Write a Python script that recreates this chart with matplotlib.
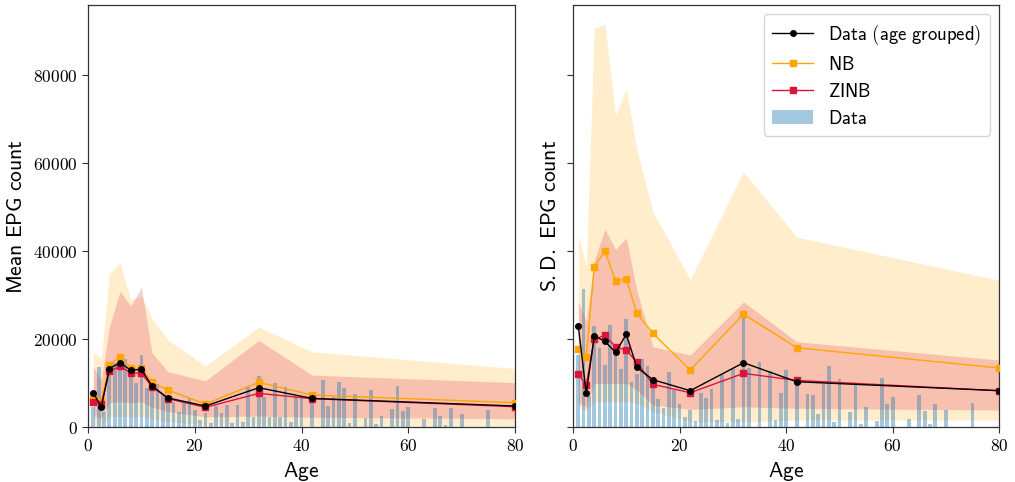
import matplotlib
matplotlib.use("Agg")
import matplotlib.pyplot as plt
from matplotlib.ticker import FuncFormatter, MultipleLocator
from matplotlib.patches import Patch
from matplotlib.lines import Line2D

plt.rcParams["mathtext.fontset"] = "cm"

# Age groups used for the grouped data and the model summaries
group_age = [1, 2.5, 4, 6, 8, 10, 12, 15, 22, 32, 42, 80]

# Mean EPG count per age group
mean_data = [7800, 4480, 13300, 14600, 12950, 13100, 9300, 6600, 4770, 8940, 6500, 4770]
mean_nb = [6900, 5980, 14160, 15900, 13500, 13330, 10160, 8400, 5230, 10160, 7270, 5530]
mean_zinb = [5680, 5300, 12650, 13800, 12350, 12200, 9170, 6440, 4470, 7650, 6440, 4620]
mean_nb_lo = [500, 400, 2300, 2400, 2300, 2400, 1800, 1200, 500, 500, 200, 200]
mean_nb_hi = [17000, 15600, 34900, 37350, 28870, 29800, 24700, 19800, 13870, 22700, 17100, 13330]
mean_zinb_lo = [2500, 2000, 5500, 5800, 5500, 5800, 4500, 3500, 2300, 2500, 2200, 1900]
mean_zinb_hi = [13700, 10700, 22800, 30900, 27500, 31750, 16900, 12570, 10500, 19700, 11800, 10080]

# Standard deviation of EPG count per age group
sd_data = [22960, 7650, 20750, 19470, 16970, 21070, 13570, 10760, 8260, 14620, 10300, 8260]
sd_nb = [17730, 15900, 36500, 40000, 33260, 33640, 25840, 21300, 12950, 25680, 18030, 13410]
sd_zinb = [11970, 9620, 20000, 20840, 18250, 17500, 14700, 9700, 7800, 12200, 10600, 8260]
sd_nb_lo = [4600, 3500, 5750, 5750, 5750, 5750, 5450, 3480, 1200, 1200, 1600, 1600]
sd_nb_hi = [43640, 36440, 90700, 91600, 70900, 77000, 62960, 48940, 33570, 58030, 43200, 33400]
sd_zinb_lo = [5450, 4500, 9900, 9900, 9900, 9900, 8400, 5000, 4000, 4600, 4240, 3860]
sd_zinb_hi = [28490, 24000, 37960, 45000, 40380, 43030, 31000, 18260, 16370, 28490, 19400, 15230]

# Per-age raw data (ages with observations)
bar_age_mean = [1, 2, 3, 4, 5, 6, 7, 8, 9, 10, 11, 12, 13, 14, 15, 16, 17, 18, 19, 20,
                21, 22, 23, 24, 25, 26, 27, 28, 29, 30, 31, 32, 33, 34, 35, 36, 37, 38, 39, 40,
                42, 44, 45, 46, 47, 48, 49, 50, 52, 53, 54, 55, 57, 58, 59, 60,
                63, 65, 66, 67, 68, 70, 75]
bar_mean = [4600, 13600, 3500, 12950, 14470, 14850, 15380, 14100, 9930, 16300, 8790, 9550,
            9770, 7270, 6890, 5750, 3480, 5750, 6520, 3860,
            1590, 3110, 980, 4770, 3110, 5000, 840, 4930, 1200, 9320, 2350, 11670, 6740, 2350,
            10080, 2350, 9170, 1200, 7000, 6520,
            6600, 10680, 4770, 6900, 10300, 8790, 830, 7500, 2120, 8410, 680, 2500, 4010, 9320,
            3710, 4620,
            1740, 4320, 2500, 450, 4320, 2950, 3860]

bar_age_sd = [1, 2, 3, 4, 5, 6, 7, 8, 9, 10, 11, 12, 13, 14, 15, 16, 17, 18, 19, 20,
              21, 22, 23, 24, 25, 26, 27, 28, 29, 30, 31, 32, 33, 35, 37, 38, 39, 40,
              42, 44, 45, 46, 47, 48, 49, 50, 52, 53, 54, 55, 57, 58, 59, 60,
              63, 65, 66, 67, 68, 70, 75]
bar_sd = [16370, 31300, 7000, 23000, 18000, 14090, 23180, 17120, 13300, 24500, 10300, 12050,
          15500, 13870, 10300, 6480, 4240, 12580, 8410, 5200,
          2350, 3860, 1440, 7800, 6700, 8750, 1600, 11900, 1000, 13200, 1800, 25300, 13400,
          14850, 12700, 1590, 7650, 12950,
          10300, 7500, 7270, 2950, 9770, 13870, 1210, 10830, 3480, 9550, 680, 4470, 1440,
          11210, 5230, 6900,
          1900, 7270, 3710, 680, 5150, 3860, 5530]

x_ticks = [0, 20, 40, 60, 80]


def sf(s):
    return r"$\mathsf{" + s.replace(" ", r"\ ") + "}$"


fig = plt.figure(figsize=(10.15, 4.82), dpi=100)
ax1 = fig.add_axes([0.0867, 0.1141, 0.4207, 0.8755])
ax2 = fig.add_axes([0.5645, 0.1141, 0.4200, 0.8755], sharey=ax1)

panels = [
    (ax1, mean_data, mean_nb, mean_zinb, mean_nb_lo, mean_nb_hi, mean_zinb_lo, mean_zinb_hi,
     bar_age_mean, bar_mean, "Mean EPG count"),
    (ax2, sd_data, sd_nb, sd_zinb, sd_nb_lo, sd_nb_hi, sd_zinb_lo, sd_zinb_hi,
     bar_age_sd, bar_sd, "S.D. EPG count"),
]

tick_fmt = FuncFormatter(lambda v, p: r"$%d$" % int(round(v)))

for ax, d, nb, zi, nlo, nhi, zlo, zhi, bx, by, ylab in panels:
    ax.fill_between(group_age, nlo, nhi, color="orange", alpha=0.2, lw=0, zorder=1)
    ax.fill_between(group_age, zlo, zhi, color="crimson", alpha=0.2, lw=0, zorder=1.1)
    ax.bar(bx, by, width=0.7, color="tab:blue", alpha=0.4, lw=0, zorder=2)
    ax.plot(group_age, d, color="black", marker="o", ms=4, lw=1.0, zorder=5)
    ax.plot(group_age, nb, color="orange", marker="s", ms=4.5, lw=1.0, zorder=4)
    ax.plot(group_age, zi, color="crimson", marker="s", ms=4.5, lw=1.0, zorder=4.5)
    ax.set_xlim(0, 80)
    ax.set_xticks(x_ticks)
    ax.xaxis.set_major_formatter(tick_fmt)
    ax.yaxis.set_major_locator(MultipleLocator(20000))
    ax.yaxis.set_major_formatter(tick_fmt)
    ax.tick_params(labelsize=12.5, length=4, width=0.8, color="#333333")
    for s in ax.spines.values():
        s.set_color("#333333")
        s.set_linewidth(0.9)
    ax.set_xlabel(sf("Age"), fontsize=15.5, labelpad=3)
    ax.set_ylabel(sf(ylab), fontsize=15.5, labelpad=5)

ax1.set_ylim(0, 96000)
ax2.tick_params(labelleft=False)

handles = [
    Line2D([], [], color="black", marker="o", ms=4, lw=1.0),
    Line2D([], [], color="orange", marker="s", ms=4.5, lw=1.0),
    Line2D([], [], color="crimson", marker="s", ms=4.5, lw=1.0),
    Patch(facecolor="tab:blue", alpha=0.4, lw=0),
]
labels = [sf("Data (age grouped)"), sf("NB"), sf("ZINB"), sf("Data")]
ax2.legend(handles, labels, loc="upper right", fontsize=13.5, fancybox=True,
           framealpha=0.8, edgecolor="#cccccc", borderpad=0.45, labelspacing=0.42,
           handlelength=2.2)

fig.savefig("out.png", dpi=100)
